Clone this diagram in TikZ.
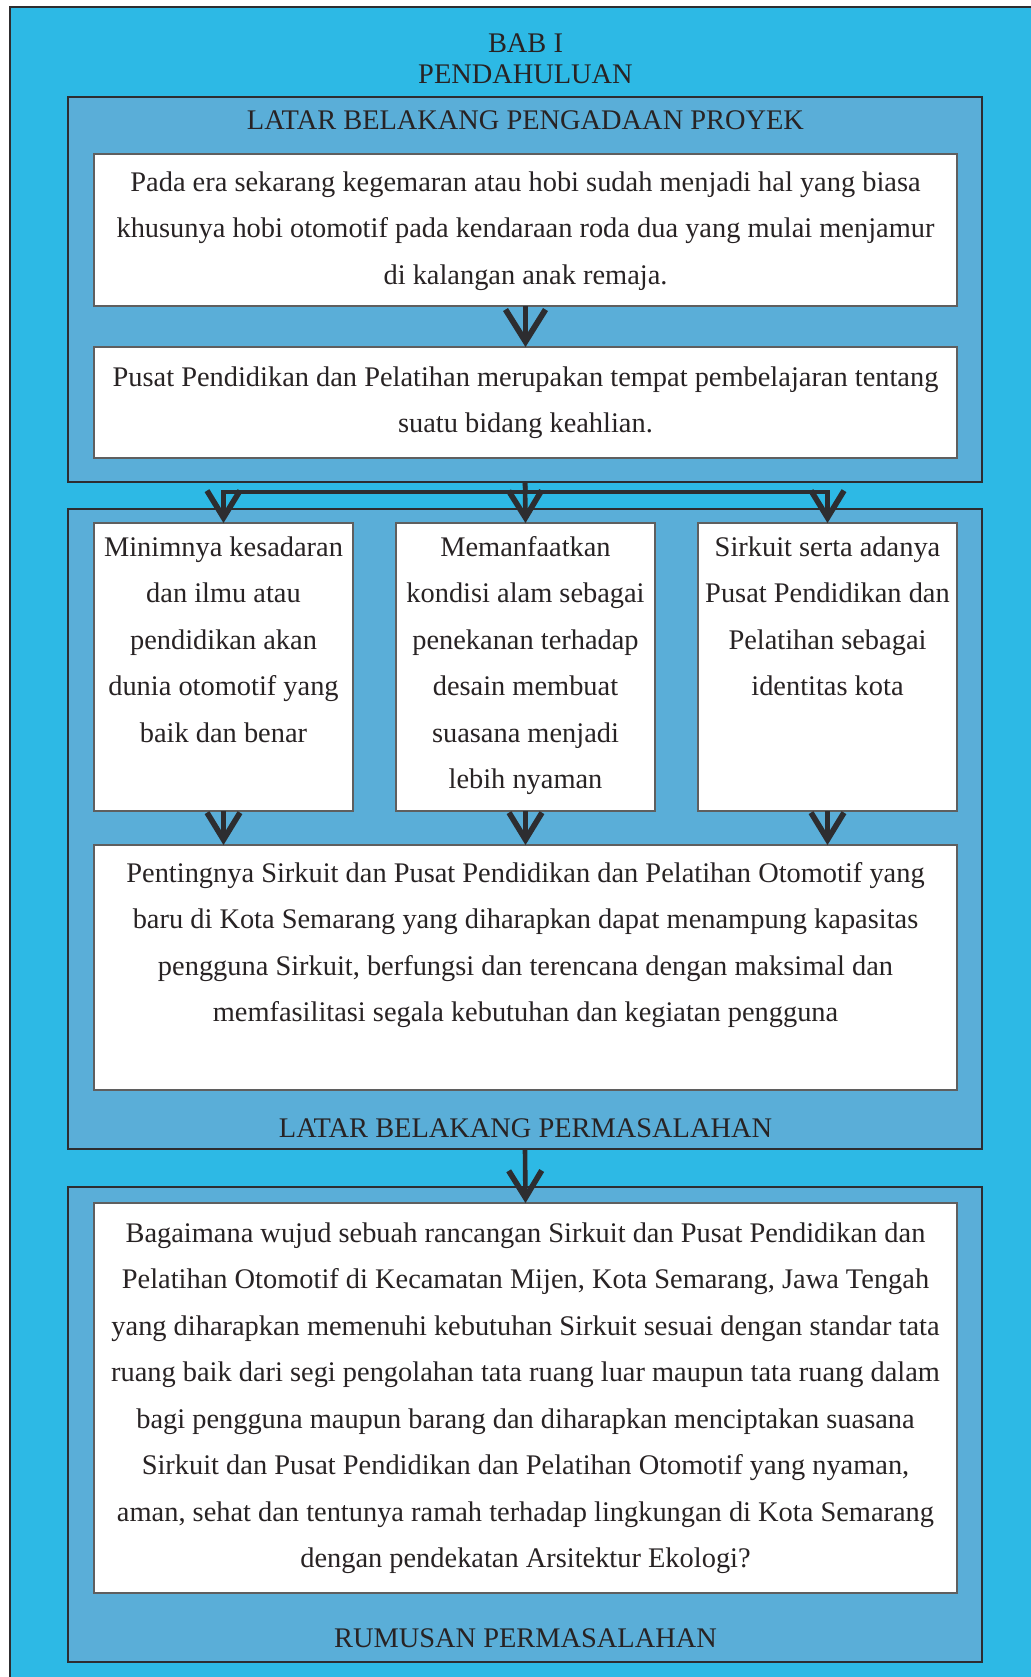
\documentclass[tikz,border=0pt]{standalone}
\usepackage{fontspec}
\setmainfont{Liberation Serif}
\usetikzlibrary{arrows.meta}
\definecolor{bgcyan}{RGB}{45,185,229}
\definecolor{seccol}{RGB}{90,174,216}
\definecolor{darkline}{RGB}{45,45,48}
\definecolor{txtcol}{RGB}{40,35,36}
\definecolor{boxline}{RGB}{95,95,95}
\begin{document}
\begin{tikzpicture}[x=0.5pt,y=-0.5pt,
 secbox/.style={draw=darkline, fill=seccol, line width=0.8pt, inner sep=0pt, outer sep=0pt},
 wbox/.style={draw=boxline, fill=white, line width=1pt, inner sep=0pt, outer sep=0pt},
 body/.style={font=\fontsize{14.2pt}{23.25pt}\selectfont, text=txtcol, align=center, inner sep=0pt, anchor=north},
 head/.style={font=\fontsize{14.2pt}{15.5pt}\selectfont, text=txtcol, align=center, inner sep=0pt},
 conn/.style={draw=darkline, line width=2.3pt, line join=miter},
 arr/.style={conn, -{Straight Barb[length=13.5pt,width=16.5pt,line width=2.8pt]}},
 bigarr/.style={conn, -{Straight Barb[length=16pt,width=20pt,line width=2.9pt]}},
]
\useasboundingbox (0,0) rectangle (1030,1677);
\fill[bgcyan] (10,7) rectangle (1040,1690);
\draw[darkline, line width=0.8pt] (10,1690) -- (10,7) -- (1040,7);

% title
\node[head, anchor=north] (title) at (525.5,33) {BAB I\\PENDAHULUAN};

% sections
\node[secbox, minimum width=457pt, minimum height=192.5pt] (sec1) at (525,289.5) {};
\node[secbox, minimum width=457pt, minimum height=320pt] (sec2) at (525,829) {};
\node[secbox, minimum width=457pt, minimum height=237.5pt] (sec3) at (525,1424.5) {};

\node[head, anchor=base] (lab1) at (525.5,129) {LATAR BELAKANG PENGADAAN PROYEK};
\node[head, anchor=base] (lab2) at (525.5,1137) {LATAR BELAKANG PERMASALAHAN};
\node[head, anchor=base] (lab3) at (525.5,1647) {RUMUSAN PERMASALAHAN};

% white boxes
\node[wbox, minimum width=431.5pt, minimum height=76pt] (box1) at (525.5,230) {};
\node[wbox, minimum width=431.5pt, minimum height=55.5pt] (box2) at (525.5,402.5) {};
\node[wbox, minimum width=129.5pt, minimum height=144pt] (boxA) at (223.5,667) {};
\node[wbox, minimum width=129.5pt, minimum height=144pt] (boxB) at (525.5,667) {};
\node[wbox, minimum width=129.5pt, minimum height=144pt] (boxC) at (827.5,667) {};
\node[wbox, minimum width=431.5pt, minimum height=122.5pt] (boxD) at (525.5,967.5) {};
\node[wbox, minimum width=431.5pt, minimum height=195pt] (boxE) at (525.5,1398) {};

% texts
\node[body] (t1) at (525.5,171) {Pada era sekarang kegemaran atau hobi sudah menjadi hal yang biasa\\khusunya hobi otomotif pada kendaraan roda dua yang mulai menjamur\\di kalangan anak remaja.};
\node[body] (t2) at (525.5,366) {Pusat Pendidikan dan Pelatihan merupakan tempat pembelajaran tentang\\suatu bidang keahlian.};
\node[body] (tA) at (223.5,536) {Minimnya kesadaran\\dan ilmu atau\\pendidikan akan\\dunia otomotif yang\\baik dan benar};
\node[body] (tB) at (525.5,536) {Memanfaatkan\\kondisi alam sebagai\\penekanan terhadap\\desain membuat\\suasana menjadi\\lebih nyaman};
\node[body] (tC) at (827.5,536) {Sirkuit serta adanya\\Pusat Pendidikan dan\\Pelatihan sebagai\\identitas kota};
\node[body] (tD) at (525.5,862) {Pentingnya Sirkuit dan Pusat Pendidikan dan Pelatihan Otomotif yang\\baru di Kota Semarang yang diharapkan dapat menampung kapasitas\\pengguna Sirkuit, berfungsi dan terencana dengan maksimal dan\\memfasilitasi segala kebutuhan dan kegiatan pengguna};
\node[body] (tE) at (525.5,1222) {Bagaimana wujud sebuah rancangan Sirkuit dan Pusat Pendidikan dan\\Pelatihan Otomotif di Kecamatan Mijen, Kota Semarang, Jawa Tengah\\yang diharapkan memenuhi kebutuhan Sirkuit sesuai dengan standar tata\\ruang baik dari segi pengolahan tata ruang luar maupun tata ruang dalam\\bagi pengguna maupun barang dan diharapkan menciptakan suasana\\Sirkuit dan Pusat Pendidikan dan Pelatihan Otomotif yang nyaman,\\aman, sehat dan tentunya ramah terhadap lingkungan di Kota Semarang\\dengan pendekatan Arsitektur Ekologi?};

% connectors
\draw[bigarr] (box1.south) -- (box2.north);
\coordinate (br) at (525.5,492);
\coordinate (brL) at (boxA.north |- br);
\coordinate (brR) at (boxC.north |- br);
\draw[conn] (sec1.south) -- (br);
\draw[arr] (br) -- (brL) -- (boxA.north);
\draw[arr] (br) -- (brR) -- (boxC.north);
\draw[arr] (sec1.south) -- (boxB.north);
\draw[arr] (boxA.south) -- (boxA.south |- boxD.north);
\draw[arr] (boxB.south) -- (boxB.south |- boxD.north);
\draw[arr] (boxC.south) -- (boxC.south |- boxD.north);
\draw[arr] (sec2.south) -- (boxE.north);
\end{tikzpicture}
\end{document}
